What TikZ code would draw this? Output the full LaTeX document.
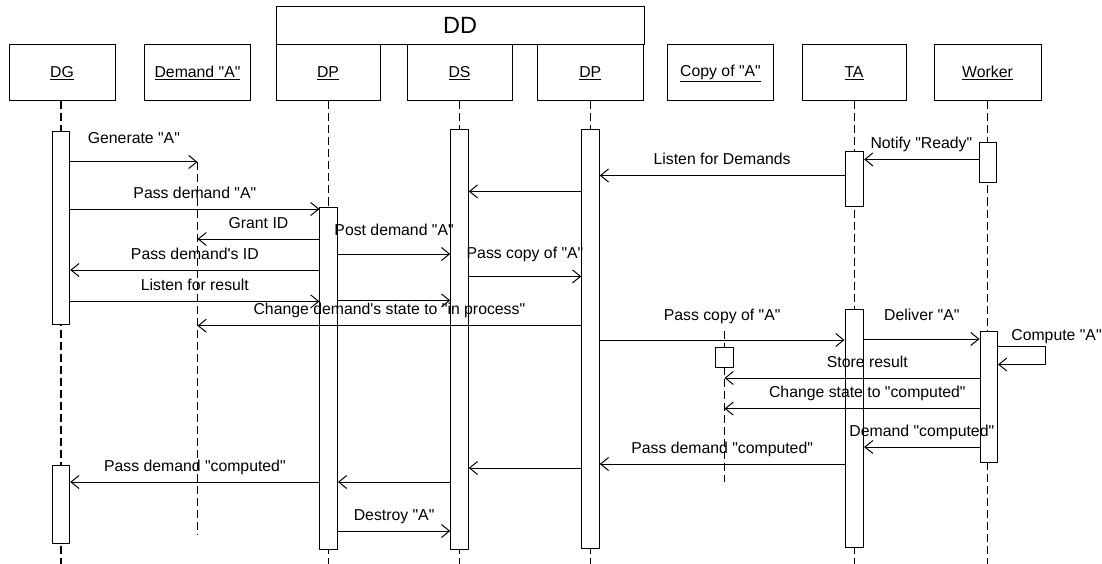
\documentclass[tikz,border=0pt]{standalone}
\usepackage{fontspec}
\setmainfont{Liberation Sans}[Ligatures=TeXOff]
\usetikzlibrary{arrows.meta}
\begin{document}
\begin{tikzpicture}[x=1pt,y=-1pt,
  every node/.style={font=\fontsize{15.8}{18}\selectfont},
  head/.style={draw, line width=1pt, minimum width=106pt, minimum height=56pt, inner sep=0pt, fill=white},
  life/.style={line width=1.3pt, dash pattern=on 8pt off 4pt},
  bar/.style={draw, fill=white, line width=1pt, minimum width=17.5pt, inner sep=0pt},
  msg/.style={line width=1pt, -{Straight Barb[length=8pt,width=13pt,line width=1pt]}},
  lbl/.style={midway, inner sep=0pt, text height=11.5pt, text depth=3.3pt, yshift=15pt},
  lblh/.style={midway, inner sep=0pt, text height=11.5pt, text depth=3.3pt, yshift=22.5pt}]
\fill[white] (0,0) rectangle (1102,564);
\useasboundingbox (0,0) rectangle (1102,564);

% heads
\node[draw, line width=1pt, minimum width=368pt, minimum height=38.6pt, inner sep=0pt,
      font=\fontsize{23.5}{26}\selectfont] (hDD) at (460,25.7) {DD};
\node[head] (hDG) at (62,73) {\underline{DG}};
\node[head] (hDM) at (197.5,73) {\underline{Demand "A"}};
\node[head, minimum width=104pt] (hDP) at (328,73) {\underline{DP}};
\node[head, minimum width=105pt] (hDS) at (459.5,73) {\underline{DS}};
\node[head, minimum width=105.5pt] (hDP2) at (590.3,73) {\underline{DP}};
\node[head] (hCP) at (720.5,73) {\underline{Copy of "A"}};
\node[head, minimum width=104pt] (hTA) at (854,73) {\underline{TA}};
\node[head, minimum width=107pt] (hWK) at (987.5,73) {\underline{Worker}};

% lifelines
\coordinate (dmStart) at (197.5,162);
\coordinate (dmEnd) at (197.5,535);
\coordinate (cpStart) at (724.5,331);
\coordinate (cpEnd) at (724.5,482);
\coordinate (eDG) at (61,564);
\coordinate (eDP) at (328.7,564);
\coordinate (eDS) at (459.5,564);
\coordinate (eDP2) at (590.5,564);
\coordinate (eTA) at (854.3,564);
\coordinate (eWK) at (987.8,564);
\draw[life] (hDG.south -| eDG) -- (eDG);
\draw[life] (dmStart) -- (dmEnd);
\draw[life] (hDP.south -| eDP) -- (eDP);
\draw[life] (hDS.south -| eDS) -- (eDS);
\draw[life] (hDP2.south -| eDP2) -- (eDP2);
\draw[life] (cpStart) -- (cpEnd);
\draw[life] (hTA.south -| eTA) -- (eTA);
\draw[life] (hWK.south -| eWK) -- (eWK);

% activation bars
\node[bar, minimum height=193.2pt] (bDG1) at (61,228) {};
\node[bar, minimum height=78.6pt] (bDG2) at (61,504.3) {};
\node[bar, minimum height=341.5pt] (bDP1) at (328.7,378.25) {};
\node[bar, minimum height=419pt] (bDS) at (459.5,339.5) {};
\node[bar, minimum height=418.3pt] (bDP2) at (590.5,338.85) {};
\node[bar, minimum height=54.5pt, minimum width=18.6pt] (bTA1) at (854.3,178.75) {};
\node[bar, minimum height=238pt, minimum width=18.6pt] (bTA2) at (854.3,428) {};
\node[bar, minimum height=39.4pt] (bWK1) at (987.8,162.7) {};
\node[bar, minimum height=130.5pt] (bWK2) at (988.8,396.75) {};
\node[bar, minimum height=20.4pt, minimum width=18pt] (bCP) at (724.5,357.2) {};

% messages
\draw[msg] (bDG1.east |- 0,162) -- (dmStart) node[lblh] (m1) {Generate "A"};
\draw[msg] (bDG1.east |- 0,209) -- (bDP1.west |- 0,209) node[lbl] (m2) {Pass demand "A"};
\draw[msg] (bWK1.west |- 0,159.4) -- (bTA1.east |- 0,159.4) node[lbl] (m3) {Notify "Ready"};
\draw[msg] (bTA1.west |- 0,175.5) -- (bDP2.east |- 0,175.5) node[lbl] (m4) {Listen for Demands};
\draw[msg] (bDP2.west |- 0,191.4) -- (bDS.east |- 0,191.4);
\draw[msg] (bDP1.west |- 0,239) -- (dmStart |- 0,239) node[lbl] (m6) {Grant ID};
\draw[msg] (bDP1.east |- 0,254) -- (bDS.west |- 0,254) node[lblh] (m7) {Post demand "A"};
\draw[msg] (bDP1.west |- 0,270) -- (bDG1.east |- 0,270) node[lbl] (m8) {Pass demand's ID};
\draw[msg] (bDS.east |- 0,276.4) -- (bDP2.west |- 0,276.4) node[lblh] (m9) {Pass copy of "A"};
\draw[msg] (bDG1.east |- 0,301.4) -- (bDP1.west |- 0,301.4) node[lbl] (m10) {Listen for result};
\draw[msg] (bDP1.east |- 0,300.4) -- (bDS.west |- 0,300.4);
\draw[msg] (bDP2.west |- 0,325.7) -- (dmStart |- 0,325.7) node[lbl] (m12) {Change demand's state to "in process"};
\draw[msg] (bDP2.east |- 0,340) -- (bTA2.west |- 0,340) node[lblh, yshift=1.5pt] (m13) {Pass copy of "A"};
\draw[msg] (bTA2.east |- 0,339) -- (bWK2.west |- 0,339) node[lblh] (m14) {Deliver "A"};
\coordinate (cmpA) at (1045,346);
\coordinate (cmpB) at (1045,364.5);
\draw[msg] (bWK2.east |- cmpA) -- (cmpA) -- (cmpB) -- (bWK2.east |- cmpB);
\node[inner sep=0pt, text height=11.5pt, text depth=3.3pt] (m15) at (1056.5,336) {Compute "A"};
\draw[msg] (bWK2.west |- 0,378) -- (cpStart |- 0,378) node[lbl, pos=0.44] (m16) {Store result};
\draw[msg] (bWK2.west |- 0,408.6) -- (cpStart |- 0,408.6) node[lbl, pos=0.44] (m17) {Change state to "computed"};
\draw[msg] (bWK2.west |- 0,447) -- (bTA2.east |- 0,447) node[lbl] (m18) {Demand "computed"};
\draw[msg] (bTA2.west |- 0,464) -- (bDP2.east |- 0,464) node[lbl] (m19) {Pass demand "computed"};
\draw[msg] (bDP2.west |- 0,468) -- (bDS.east |- 0,468);
\draw[msg] (bDS.west |- 0,482) -- (bDP1.east |- 0,482);
\draw[msg] (bDP1.west |- 0,482) -- (bDG2.east |- 0,482) node[lbl] (m22) {Pass demand "computed"};
\draw[msg] (bDP1.east |- 0,531) -- (bDS.west |- 0,531) node[lbl] (m23) {Destroy "A"};
\end{tikzpicture}
\end{document}
